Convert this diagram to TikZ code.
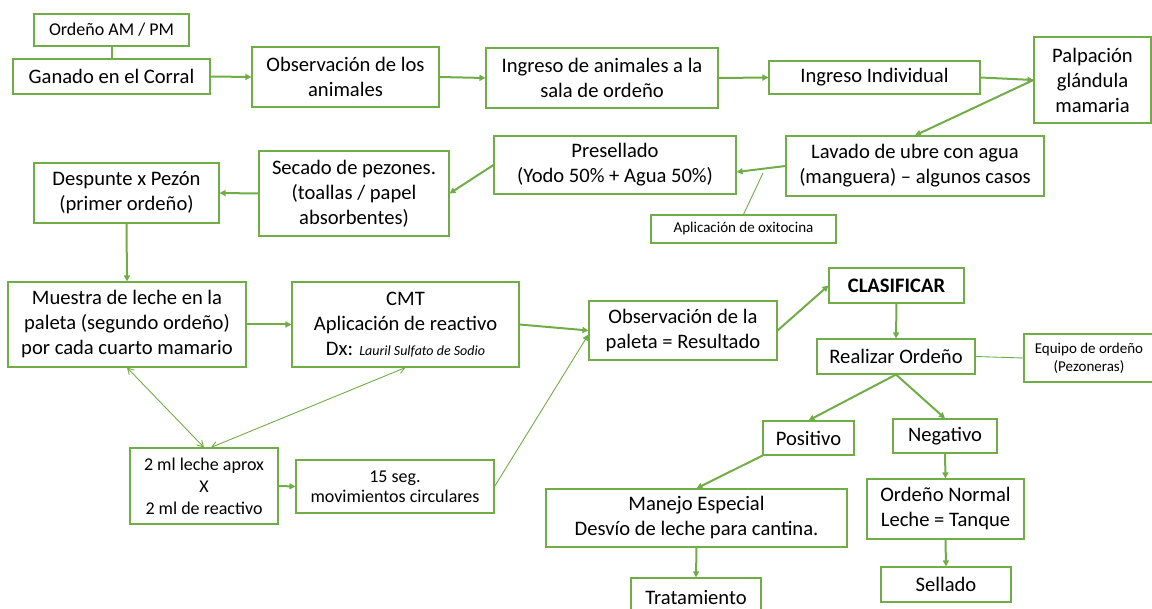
\documentclass[tikz,border=0pt]{standalone}
\usepackage{fontspec}
\setmainfont{Carlito}
\usetikzlibrary{arrows.meta}
\definecolor{lgreen}{RGB}{112,173,71}

\begin{document}
\begin{tikzpicture}[
x=1pt, y=-1pt,
>={Triangle[length=6pt,width=6pt]},
box/.style 2 args={draw=lgreen, line width=1.1pt, inner sep=0pt, align=center,
  minimum width=#1, minimum height=#2, font=\fontsize{20.6}{25}\selectfont},
midtext/.style={font=\fontsize{18}{22}\selectfont},
smalltext/.style={font=\fontsize{15}{18}\selectfont},
flow/.style={draw=lgreen, line width=2pt},
thinline/.style={draw=lgreen, line width=0.9pt},
]
\useasboundingbox (0,0) rectangle (1152,609);
% nodes
\node[box={155pt}{32pt}, midtext] (AM) at (111.5,30) {Ordeño AM / PM};
\node[box={197pt}{35pt}] (GC) at (111.5,76.5) {Ganado en el Corral};
\node[box={187pt}{60pt}] (OA) at (345.5,77) {Observación de los\\animales};
\node[box={232pt}{60pt}] (IS) at (602,78) {Ingreso de animales a la\\sala de ordeño};
\node[box={211pt}{33pt}] (II) at (874.5,77.5) {Ingreso Individual};
\node[box={117pt}{86pt}] (PG) at (1092.5,80) {Palpación\\glándula\\mamaria};
\node[box={258pt}{60pt}] (LU) at (915,166) {Lavado de ubre con agua\\(manguera) -- algunos casos};
\node[box={185pt}{28pt}, smalltext] (OX) at (743.5,229) {Aplicación de oxitocina};
\node[box={242pt}{58pt}] (PS) at (615,165) {Presellado\\(Yodo 50\% + Agua 50\%)};
\node[box={190pt}{85pt}] (SP) at (354,193.5) {Secado de pezones.\\(toallas / papel\\absorbentes)};
\node[box={185pt}{60pt}] (DP) at (126.5,193) {Despunte x Pezón\\(primer ordeño)};
\node[box={238pt}{85pt}] (ML) at (127,324.5) {Muestra de leche en la\\paleta (segundo ordeño)\\por cada cuarto mamario};
\node[box={227pt}{85pt}] (CMT) at (405.5,324.5) {CMT\\Aplicación de reactivo\\Dx: {\fontsize{14}{16}\selectfont\itshape Lauril Sulfato de Sodio}};
\node[box={148pt}{76pt}, midtext] (MX) at (204,486) {2 ml leche aprox\\X\\2 ml de reactivo};
\node[box={198pt}{53pt}, font=\fontsize{18}{20}\selectfont] (MC) at (395,486.5) {15 seg.\\movimientos circulares};
\node[box={188pt}{59pt}] (OP) at (683,330.5) {Observación de la\\paleta = Resultado};
\node[box={135pt}{35pt}] (CL) at (896.5,285.5) {\textbf{CLASIFICAR}};
\node[box={158pt}{35pt}] (RO) at (896,356.5) {Realizar Ordeño};
\node[box={130pt}{48pt}, smalltext] (EQ) at (1089,358) {Equipo de ordeño\\(Pezoneras)};
\node[box={91pt}{34pt}] (POS) at (808.5,438) {Positivo};
\node[box={104pt}{34pt}] (NEG) at (945,436) {Negativo};
\node[box={301pt}{58pt}] (ME) at (696.5,518) {Manejo Especial\\Desvío de leche para cantina.};
\node[box={157pt}{60pt}] (ON) at (945.5,509) {Ordeño Normal\\Leche = Tanque};
\node[box={130pt}{38pt}] (TR) at (696,597) {Tratamiento};
\node[box={130pt}{35pt}] (SE) at (946,584.5) {Sellado};
\coordinate (LX) at (763,173);
% arrows
\draw[flow] (AM) -- (GC);
\draw[flow,->] (GC.east) -- (OA.west);
\draw[flow,->] (OA.east) -- (IS.west);
\draw[flow,->] (IS.east) -- (II.west);
\draw[flow,->] (II.east) -- (PG.west);
\draw[flow,->] (PG.west) -- (LU.north);
\draw[flow,->] (LU.west) -- ([yshift=-7pt]PS.east);
\draw[thinline] (OX.north) -- (LX);
\draw[flow,->] (PS.west) -- (SP.east);
\draw[flow,->] (SP.west) -- (DP.east);
\draw[flow,->] (DP.south) -- (ML.north);
\draw[flow,->] (ML.east) -- (CMT.west);
\draw[flow,->] (CMT.east) -- (OP.west);
\draw[thinline,{Straight Barb[length=6pt,width=7pt]}-{Straight Barb[length=6pt,width=7pt]}] (ML.south) -- (MX.north);
\draw[thinline,{Straight Barb[length=6pt,width=7pt]}-{Straight Barb[length=6pt,width=7pt]}] (CMT.south) -- ([xshift=7pt]MX.north);
\draw[flow,->] (MX.east) -- (MC.west);
\draw[thinline,->] (MC.east) -- ([yshift=-4pt]OP.west);
\draw[flow,->] (OP.east) -- (CL.west);
\draw[flow,->] (CL.south) -- (RO.north);
\draw[thinline] (RO.east) -- (EQ.west);
\draw[flow,->] (RO.south) -- (POS.north);
\draw[flow,->] (RO.south) -- (NEG.north);
\draw[flow,->] (POS.south west) -- (ME.north);
\draw[flow,->] (NEG.south) -- (ON.north);
\draw[flow,->] (ON.south) -- (SE.north);
\draw[flow,->] (ME.south) -- (TR.north);
\end{tikzpicture}
\end{document}
